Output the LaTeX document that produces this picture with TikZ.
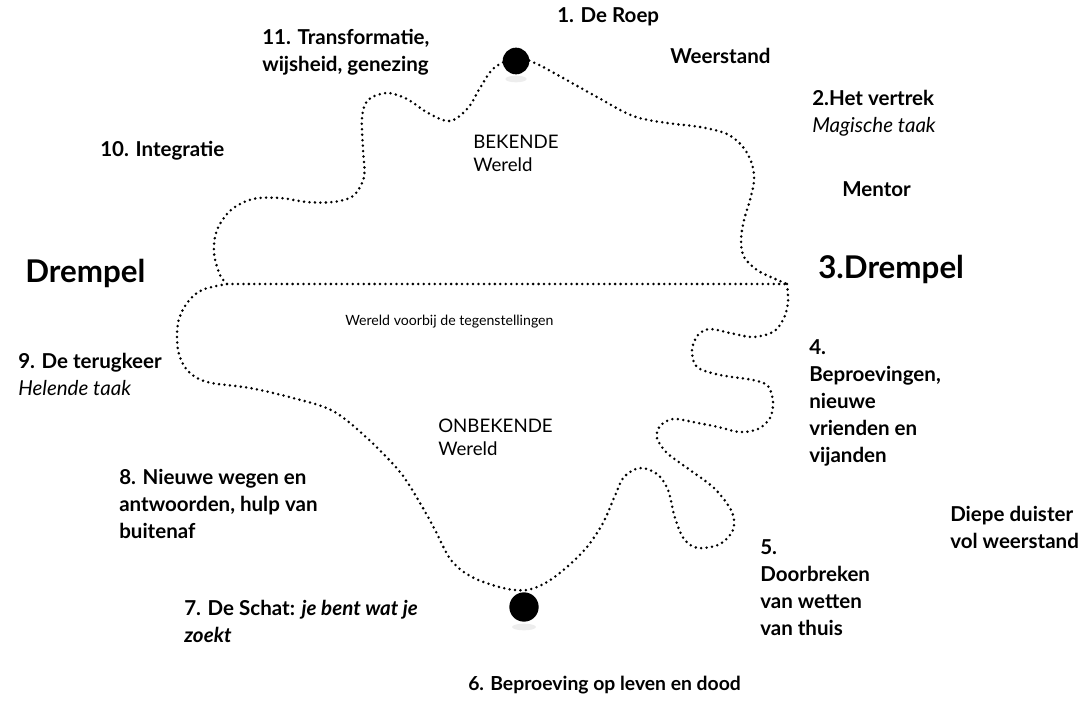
\documentclass[tikz,border=0pt]{standalone}
\usepackage{fontspec}
\setmainfont{Lato}
\tikzset{stap/.style = {anchor=base west, inner sep=0pt, align=left, font=\fontsize{15.4}{20.25}\selectfont\bfseries}}
\tikzset{wereld/.style = {anchor=base west, inner sep=0pt, align=left, font=\fontsize{14}{17.25}\selectfont}}
\tikzset{drempel/.style = {anchor=base west, inner sep=0pt, font=\fontsize{23.5}{26}\selectfont\bfseries}}
\tikzset{pad/.style = {line width=2.1pt, dash pattern=on 0pt off 4.1pt, line cap=round}}
\tikzset{punt/.style = {shape=circle, fill=black, minimum size=20pt, inner sep=0pt}}

\begin{document}
\begin{tikzpicture}[x=0.75pt, y=-0.75pt]
                \useasboundingbox (0,0) rectangle (1084,702);

                \coordinate (grensL) at (227,284);
                \coordinate (grensR) at (787,284);

                % de weg door de onbekende wereld
                \draw[pad] plot[smooth, tension=0.55] coordinates {(787,284) (788,303) (783,320) (773,332) (753,337) (730,333) (710,329) (698,335) (692,350) (697,367) (720,375) (753,380) (768,386) (773,402) (770,418) (758,429) (740,432) (718,427) (693,422) (673,419) (660,426) (657,438) (667,453) (690,470) (715,489) (732,512) (733,530) (720,544) (698,548) (684,539) (675,518) (668,490) (657,474) (640,468) (624,477) (614,498) (603,523) (587,547) (567,567) (547,582) (527,590) (503,588) (472,577) (451,560) (434,528) (420,503) (400,472) (367,438) (333,411) (293,398) (250,388) (207,382) (187,370) (178,350) (178,323) (187,303) (202,290) (227,284)};
                % de weg door de bekende wereld
                \draw[pad] plot[smooth, tension=0.55] coordinates {(227,284) (220,275) (214,253) (217,230) (231,210) (253,199) (280,198) (307,202) (333,202) (353,196) (364,177) (363,150) (362,118) (368,100) (387,93) (407,99) (428,113) (450,121) (468,108) (480,88) (494,68) (516,58) (535,63) (563,78) (597,97) (633,116) (667,123) (700,127) (727,134) (743,147) (752,164) (754,181) (750,200) (744,220) (741,240) (744,257) (757,270) (773,278) (787,284)};
                \draw[pad] (grensL) -- (grensR);

                % schaduw onder de punten
                \fill[black!7] (516,79) ellipse [x radius=8pt, y radius=2.5pt];
                \fill[black!7] (524,627) ellipse [x radius=9pt, y radius=2.5pt];
                \node[punt] (roep-punt) at (516,61) {};
                \node[punt, minimum size=22pt] (schat-punt) at (524,607) {};

                \node[stap] (roep) at (557,23) {1. De Roep};
                \node[stap] (weerstand) at (670,64) {Weerstand};
                \node[stap] (vertrek) at (812,133) {2.Het vertrek\\\textmd{\itshape Magische taak}};
                \node[stap] (mentor) at (842,197) {Mentor};
                \node[drempel] (drempelR) at (818,278) {3.Drempel};
                \node[drempel] (drempelL) at (25,282) {Drempel};
                \node[stap] (beproeving) at (809,462) {4.\\Beproevingen,\\nieuwe\\vrienden en\\vijanden};
                \node[stap] (duister) at (950,548) {Diepe duister\\vol weerstand};
                \node[stap] (doorbreken) at (760,635) {5.\\Doorbreken\\van wetten\\van thuis};
                \node[stap, font=\fontsize{14.5}{18}\selectfont\bfseries] (leven) at (468,690) {6. Beproeving op leven en dood};
                \node[stap] (schat) at (184,642) {7. De Schat: \textit{je bent wat je}\\\textit{zoekt}};
                \node[stap] (wegen) at (119,538) {8. Nieuwe wegen en\\antwoorden, hulp van\\buitenaf};
                \node[stap] (terugkeer) at (18,395) {9. De terugkeer\\\textmd{\itshape Helende taak}};
                \node[stap] (integratie) at (100,157) {10. Integratie};
                \node[stap] (transformatie) at (262,72) {11. Transformatie,\\wijsheid, genezing};

                \node[wereld] (bekend) at (473,172) {BEKENDE\\Wereld};
                \node[wereld] (onbekend) at (438,455) {ONBEKENDE\\Wereld};
                \node[wereld, font=\fontsize{10.6}{12}\selectfont] (voorbij) at (345,325) {Wereld voorbij de tegenstellingen};
            \end{tikzpicture}
\end{document}
